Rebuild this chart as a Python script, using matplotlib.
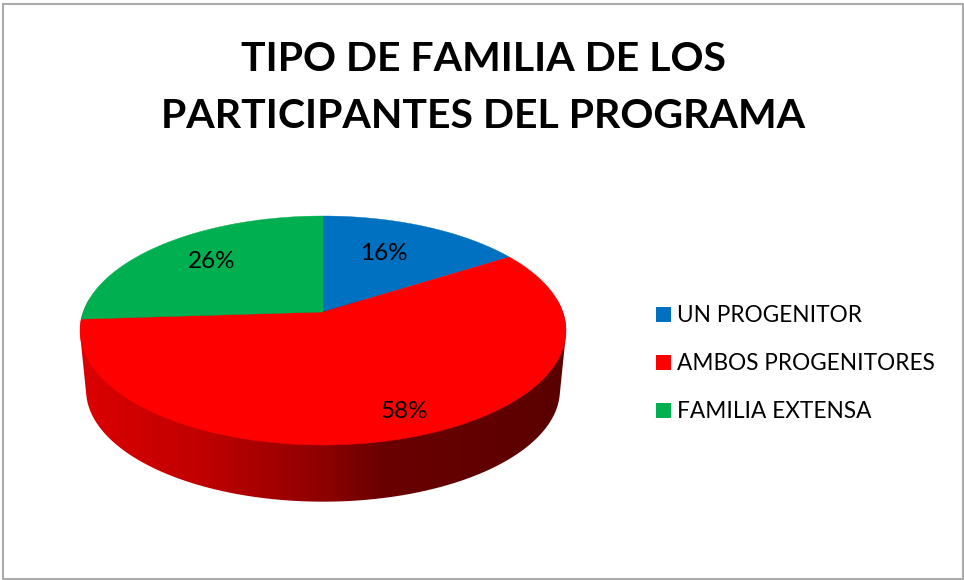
import numpy as np
import matplotlib
matplotlib.use("Agg")
import matplotlib.pyplot as plt
from matplotlib.colors import LinearSegmentedColormap
from matplotlib.patches import Polygon, Rectangle

title_lines = ["TIPO DE FAMILIA DE LOS", "PARTICIPANTES DEL PROGRAMA"]
categories = ["UN PROGENITOR", "AMBOS PROGENITORES", "FAMILIA EXTENSA"]
values = [16, 58, 26]
colors = ["#0070C0", "#FF0000", "#00B050"]

plt.rcParams["font.family"] = ["Lato", "DejaVu Sans"]

fig = plt.figure(figsize=(9.64, 5.8), dpi=100, facecolor="white")
ax = fig.add_axes([0, 0, 1, 1])
ax.set_xlim(0, 964)
ax.set_ylim(580, 0)
ax.axis("off")

# Perspective projection of the pie disc onto the page
APEX_X, APEX_Y = 323.0, 312.0
K, A, B = 0.1616, 239.8, 111.5
DROP, SHRINK = 60.0, 0.975


def project(phi, r=1.0, base=False):
    u, v = r * np.sin(phi), r * np.cos(phi)
    d = 1 + K * v
    x, y = A * u / d, B * v / d
    if base:
        return APEX_X + SHRINK * x, APEX_Y + DROP - SHRINK * y
    return APEX_X + x, APEX_Y - y


def convex_hull(pts):
    pts = sorted(set(map(tuple, np.round(pts, 2))))
    def half(seq):
        out = []
        for p in seq:
            while len(out) > 1 and ((out[-1][0]-out[-2][0])*(p[1]-out[-2][1])
                                    - (out[-1][1]-out[-2][1])*(p[0]-out[-2][0])) <= 0:
                out.pop()
            out.append(p)
        return out[:-1]
    return np.array(half(pts) + half(pts[::-1]))


# Side wall with a left-to-right shading
full = np.linspace(0, 2 * np.pi, 721)
top_loop = np.column_stack(project(full))
base_loop = np.column_stack(project(full, base=True))
hull = convex_hull(np.vstack([top_loop, base_loop]))
shade = LinearSegmentedColormap.from_list(
    "wall",
    [(0.00, "#DC0000"), (0.25, "#C00000"), (0.50, "#8E0000"),
     (0.62, "#6A0000"), (1.00, "#5A0000")],
)
img = ax.imshow(np.linspace(0, 1, 512)[None, :], cmap=shade, vmin=0, vmax=1,
                extent=(80, 567, 510, 300), aspect="auto", zorder=1)
clip = Polygon(hull, closed=True, transform=ax.transData, fc="none", ec="none")
ax.add_patch(clip)
img.set_clip_path(clip)
ax.set_xlim(0, 964)
ax.set_ylim(580, 0)

# Top face
edges = 2 * np.pi * np.cumsum([0] + values) / sum(values)
for start, stop, color in zip(edges[:-1], edges[1:], colors):
    phi = np.linspace(start, stop, 300)
    px, py = project(phi)
    ax.fill(np.r_[APEX_X, px], np.r_[APEX_Y, py], fc=color, ec=color, lw=0.3, zorder=2)

# Value labels
label_xy = [(384, 253), (404, 412), (212, 262)]
for val, (lx, ly) in zip(values, label_xy):
    ax.text(lx, ly, f"{val}%", ha="center", va="center", fontsize=17.5, color="black", zorder=3)

# Title
for line, ty in zip(title_lines, (59.5, 116.5)):
    ax.text(483.5, ty, line, ha="center", va="center", fontsize=29.5,
            fontweight="bold", color="black")

# Legend
for name, color, ly in zip(categories, colors, (314.5, 362.5, 410.5)):
    ax.add_patch(Rectangle((656, ly - 7.5), 15, 15, fc=color, ec="none"))
    ax.text(677, ly + 1.5, name, ha="left", va="center", fontsize=16.3, color="black")

# Frame
ax.add_patch(Rectangle((2.5, 3.5), 960.5, 575.5, fc="none", ec="#ABABAB", lw=1.5, zorder=4))

fig.savefig("out.png", dpi=100)
